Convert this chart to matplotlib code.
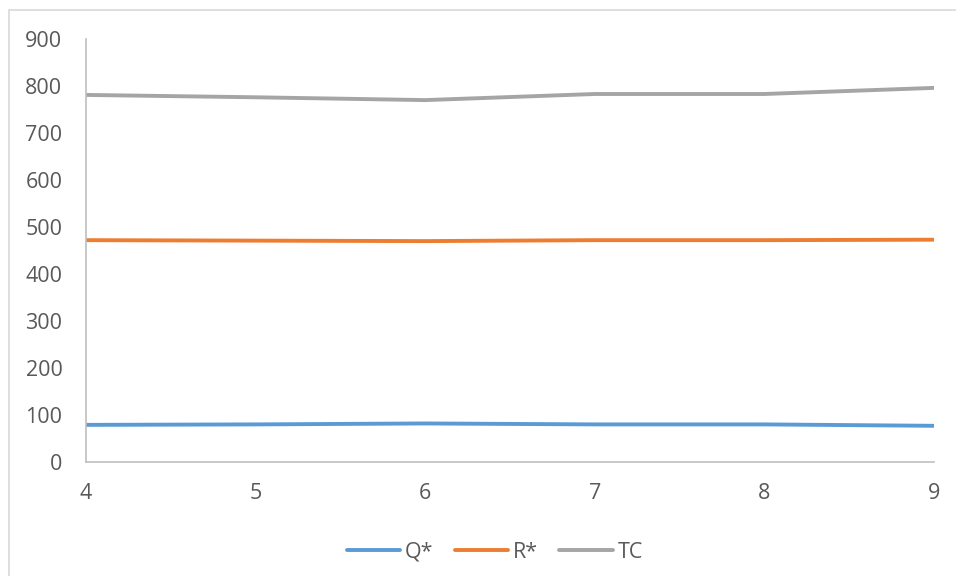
import matplotlib
matplotlib.use("Agg")
import matplotlib.pyplot as plt
from matplotlib.patches import Rectangle

x_vals = [4, 5, 6, 7, 8, 9]
q_star = [79, 80, 82, 80, 80, 77]
r_star = [472, 471, 470, 472, 472, 473]
tc = [781, 776, 770, 783, 783, 796]

y_ticks = [0, 100, 200, 300, 400, 500, 600, 700, 800, 900]

plt.rcParams["font.family"] = ["Open Sans", "DejaVu Sans"]

fig = plt.figure(figsize=(9.56, 5.76), dpi=100)
ax = fig.add_axes([86 / 956, 1 - 462 / 576, (934 - 86) / 956, (462 - 39) / 576])

ax.plot(x_vals, q_star, color="#5B9BD5", lw=2.8, label="Q*", solid_capstyle="round")
ax.plot(x_vals, r_star, color="#ED7D31", lw=2.8, label="R*", solid_capstyle="round")
ax.plot(x_vals, tc, color="#A5A5A5", lw=2.8, label="TC", solid_capstyle="round")

ax.set_xlim(4, 9)
ax.set_ylim(0, 900)
ax.set_yticks(y_ticks)
ax.set_xticks(x_vals)

for side in ["top", "right"]:
    ax.spines[side].set_visible(False)
for side in ["left", "bottom"]:
    ax.spines[side].set_color("#BFBFBF")
    ax.spines[side].set_linewidth(1.2)

ax.tick_params(axis="y", length=0, pad=17, labelsize=15.5, labelcolor="#595959")
ax.tick_params(axis="x", length=0, pad=15, labelsize=15.5, labelcolor="#595959")

ax.legend(loc="upper center", bbox_to_anchor=(0.482, -0.143), ncol=3, frameon=False,
          fontsize=15.5, labelcolor="#595959", handlelength=2.5, handletextpad=0.2,
          columnspacing=1.0)

fig.patches.append(Rectangle((9 / 956, -0.1), 1.2, 1 - 9.5 / 576 + 0.1, transform=fig.transFigure,
                             fill=False, edgecolor="#D9D9D9", lw=1.2))

fig.savefig("out.png", dpi=100)
